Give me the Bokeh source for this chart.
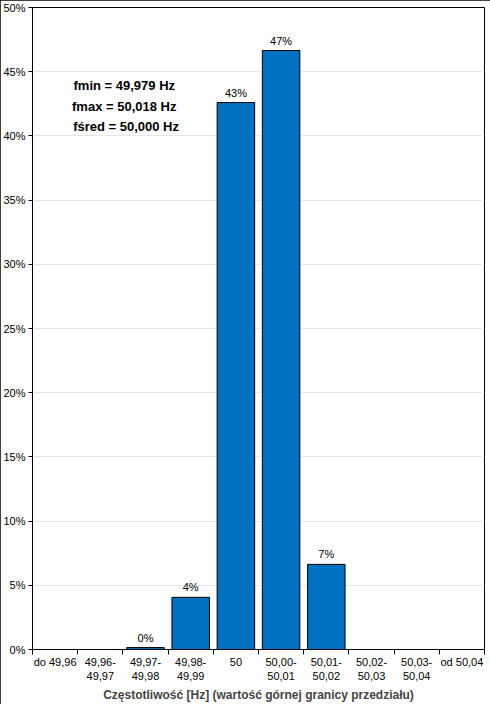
from bokeh.plotting import figure
from bokeh.models import ColumnDataSource, FixedTicker, NumeralTickFormatter, Range1d, Label
from bokeh.embed import file_html
from bokeh.resources import INLINE
from bokeh.core.properties import value

categories = ["do 49,96", "49,96-\n49,97", "49,97-\n49,98", "49,98-\n49,99", "50",
              "50,00-\n50,01", "50,01-\n50,02", "50,02-\n50,03", "50,03-\n50,04", "od 50,04"]
shares = [0.0, 0.0, 0.0015, 0.0406, 0.426, 0.4665, 0.0663, 0.0, 0.0, 0.0]
bar_labels = ["", "", "0%", "4%", "43%", "47%", "7%", "", "", ""]
y_ticks = [0.0, 0.05, 0.10, 0.15, 0.20, 0.25, 0.30, 0.35, 0.40, 0.45, 0.50]
stats_lines = ["fmin = 49,979  Hz", "fmax = 50,018  Hz", "fśred = 50,000 Hz"]
stats_y = [0.439, 0.423, 0.407]
x_title = "Częstotliwość [Hz] (wartość górnej granicy przedziału)"

FONT = "Liberation Sans"
n = len(categories)
centers = [i + 0.5 for i in range(n)]

src = ColumnDataSource(dict(x=centers, top=shares, lab=bar_labels))

p = figure(width=490, height=704, output_backend="svg", toolbar_location=None,
           x_range=Range1d(0, n), y_range=Range1d(0, 0.5),
           min_border_left=28, min_border_right=6, min_border_top=7, min_border_bottom=0)
p.styles = {"outline": "1px solid black", "outline-offset": "-1px",
            "height": "704px", "max-height": "704px", "box-sizing": "border-box"}
p.background_fill_color = "white"
p.border_fill_color = "white"
p.outline_line_color = "black"
p.outline_line_width = 1

p.vbar(x="x", top="top", width=0.83, bottom=0, source=src,
       fill_color="#0070C0", line_color="black", line_width=1)

p.text(x="x", y="top", text="lab", source=src, text_align="center", text_baseline="bottom",
       y_offset=-4, text_font=value(FONT), text_font_size="11px", text_color="black")

for t, yy in zip(stats_lines, stats_y):
    p.add_layout(Label(x=2.07, y=yy, text=t, text_align="center", text_baseline="middle",
                       text_font=FONT, text_font_size="13px", text_font_style="bold",
                       text_color="black"))

# x axis
p.xaxis.ticker = FixedTicker(ticks=centers, minor_ticks=list(range(n + 1)))
p.xaxis.major_label_overrides = {c: lab for c, lab in zip(centers, categories)}
p.xaxis.major_tick_line_color = None
p.xaxis.major_tick_out = 4
p.xaxis.minor_tick_out = 5
p.xaxis.minor_tick_in = 0
p.xaxis.minor_tick_line_color = "black"
p.xaxis.major_label_standoff = 1
p.xaxis.major_label_text_font = FONT
p.xaxis.major_label_text_font_size = "11px"
p.xaxis.major_label_text_color = "black"
p.xaxis.axis_label = x_title
p.xaxis.axis_label_text_font = FONT
p.xaxis.axis_label_text_font_size = "12px"
p.xaxis.axis_label_text_font_style = "bold"
p.xaxis.axis_label_standoff = 3
p.xaxis.axis_line_color = "black"

# y axis
p.yaxis.ticker = FixedTicker(ticks=y_ticks, minor_ticks=[])
p.yaxis.formatter = NumeralTickFormatter(format="0%")
p.yaxis.major_tick_out = 4
p.yaxis.major_tick_in = 0
p.yaxis.minor_tick_line_color = None
p.yaxis.major_label_standoff = 3
p.yaxis.major_label_text_font = FONT
p.yaxis.major_label_text_font_size = "11px"
p.yaxis.major_label_text_color = "black"
p.yaxis.axis_line_color = "black"

p.xgrid.grid_line_color = None
p.ygrid.grid_line_color = "#e6e6e6"
p.ygrid.ticker = FixedTicker(ticks=y_ticks)

open("out.html", "w").write(file_html(p, INLINE))
